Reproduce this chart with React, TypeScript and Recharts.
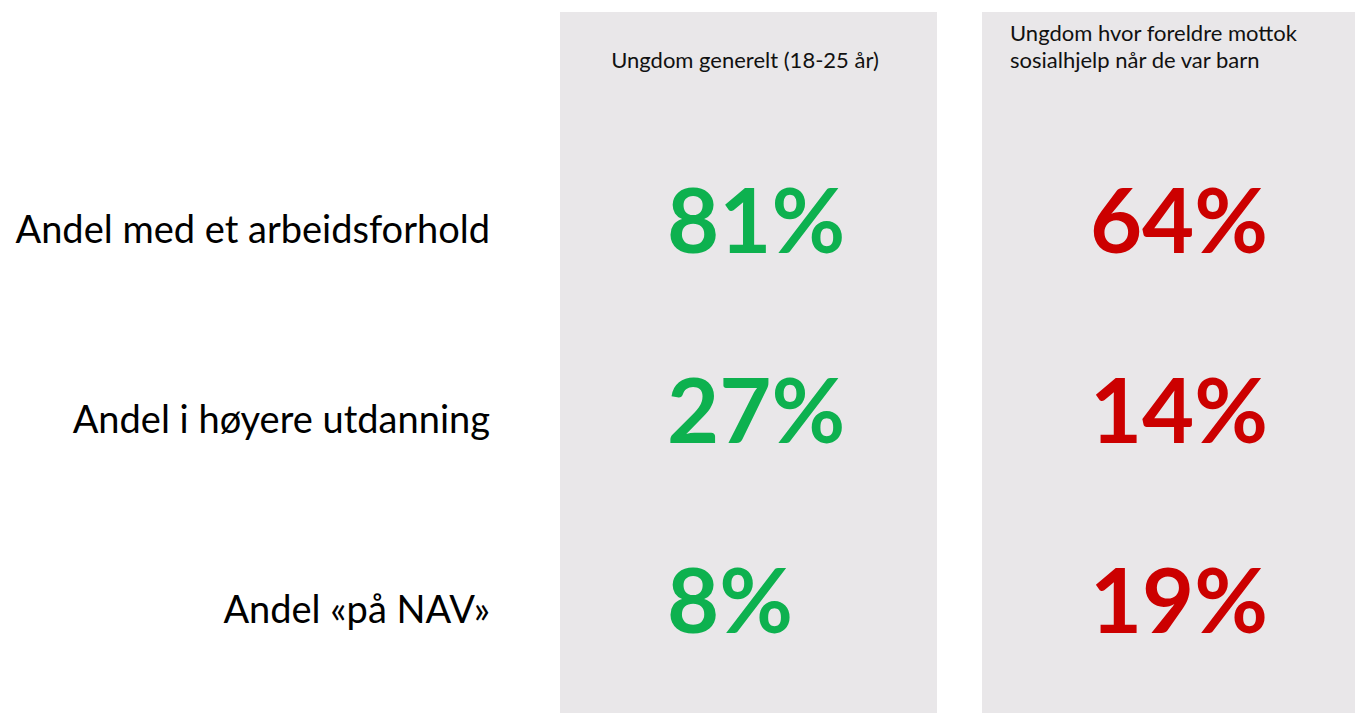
import React from "react";
import { ScatterChart, Scatter, XAxis, YAxis, ReferenceArea } from "recharts";

// column headers ("\n" = line break in the header)
const columns = [
  "Ungdom generelt (18-25 år)",
  "Ungdom hvor foreldre mottok\nsosialhjelp når de var barn",
];
const rows = [
  "Andel med et arbeidsforhold",
  "Andel i høyere utdanning",
  "Andel «på NAV»",
];
const youthGeneral = [81, 27, 8];
const youthParentsWelfare = [64, 14, 19];

const series = [youthGeneral, youthParentsWelfare];
const points = rows.flatMap((row, r) =>
  columns.map((col, c) => ({ row, col, colIndex: c, value: series[c][r] }))
);

const FONT = "Lato, 'Open Sans', sans-serif";
const PANEL = "#e9e7e9";
const COLORS = ["#0db14f", "#cc0000"];

const HeaderTick = (props: any) => {
  const { x, y, payload } = props;
  const lines = String(payload.value).split("\n");
  const single = lines.length === 1;
  return (
    <g>
      {lines.map((line, i) => (
        <text
          key={i}
          x={single ? x - 2 : x - 159}
          y={y - 56 - (lines.length - 1 - i) * 27}
          textAnchor={single ? "middle" : "start"}
          fontFamily={FONT}
          fontSize={22}
          fill="#111"
        >
          {line}
        </text>
      ))}
    </g>
  );
};

const RowTick = (props: any) => {
  const { x, y, payload } = props;
  return (
    <text
      x={x - 38}
      y={y + 2}
      dy="0.36em"
      textAnchor="end"
      fontFamily={FONT}
      fontSize={38}
      fill="#000"
    >
      {payload.value}
    </text>
  );
};

const ValueMark = (props: any) => {
  const { cx, cy, payload } = props;
  const first = payload.colIndex === 0;
  return (
    <text
      x={first ? cx - 80 : cx + 10}
      y={cy - 6}
      dy="0.36em"
      textAnchor={first ? "start" : "middle"}
      fontFamily={FONT}
      fontWeight={700}
      fontSize={90}
      fill={COLORS[payload.colIndex]}
    >
      {payload.value}%
    </text>
  );
};

const Panel = (props: any) => {
  const { x, y, width, height } = props;
  return (
    <rect x={x + 24} y={y - 120} width={width - 45} height={height + 131} fill={PANEL} />
  );
};

export default function App() {
  return (
    <div style={{ position: "absolute", left: 0, top: 0, width: 1355, height: 713, overflow: "hidden", background: "#fff" }}>
      <ScatterChart width={1380} height={713} margin={{ top: 12, right: 0, bottom: 11, left: 0 }}>
        <XAxis
          dataKey="col"
          type="category"
          orientation="top"
          allowDuplicatedCategory={false}
          axisLine={false}
          tickLine={false}
          height={120}
          tick={<HeaderTick />}
        />
        <YAxis
          dataKey="row"
          type="category"
          allowDuplicatedCategory={false}
          reversed
          axisLine={false}
          tickLine={false}
          width={536}
          tick={<RowTick />}
        />
        {columns.map((col) => (
          <ReferenceArea key={col} x1={col} x2={col} shape={<Panel />} ifOverflow="visible" />
        ))}
        <Scatter data={points} shape={<ValueMark />} isAnimationActive={false} />
      </ScatterChart>
    </div>
  );
}
